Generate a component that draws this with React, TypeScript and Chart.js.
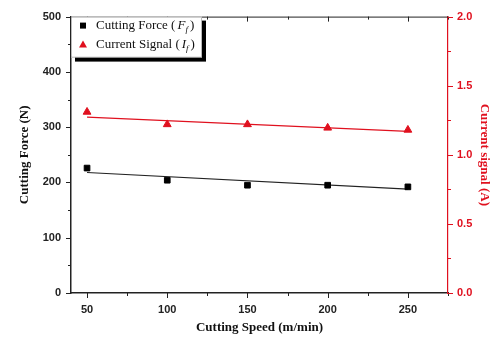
import React, { useEffect, useRef } from 'react';
import { Chart, registerables } from 'chart.js';

Chart.register(...registerables);

const speeds = [50, 100, 150, 200, 250];
const cuttingForce = [226, 204, 195, 195, 192];
const currentSignal = [1.31, 1.22, 1.22, 1.195, 1.18];
const fitSpeeds = [50, 250];
const forceFit = [218, 188];
const currentFit = [1.272, 1.17];

const xTicks = [50, 75, 100, 125, 150, 175, 200, 225, 250, 275];
const xLabels = [50, 100, 150, 200, 250];
const forceTicks = [0, 50, 100, 150, 200, 250, 300, 350, 400, 450, 500];
const forceLabels = [0, 100, 200, 300, 400, 500];
const currentTicks = [0, 0.25, 0.5, 0.75, 1.0, 1.25, 1.5, 1.75, 2.0];
const currentLabels = [0, 0.5, 1.0, 1.5, 2.0];

const RED = '#e0101e';
const SERIF = '"Liberation Serif", "Times New Roman", serif';
const SANS = '"Liberation Sans", Arial, sans-serif';

const tickPlugin = {
  id: 'minorTicks',
  afterDraw(chart: any) {
    const ctx = chart.ctx;
    const x = chart.scales.x;
    const y = chart.scales.y;
    const y1 = chart.scales.y1;
    const area = chart.chartArea;
    ctx.save();
    ctx.lineWidth = 1;
    ctx.strokeStyle = '#222';
    ctx.beginPath();
    ctx.moveTo(area.left, area.top + 0.5);
    ctx.lineTo(area.right, area.top + 0.5);
    ctx.stroke();
    xTicks.forEach((v) => {
      const px = Math.round(x.getPixelForValue(v)) + 0.5;
      const len = xLabels.includes(v) ? 5 : 3;
      ctx.beginPath();
      ctx.moveTo(px, area.bottom);
      ctx.lineTo(px, area.bottom + len);
      ctx.moveTo(px, area.top);
      ctx.lineTo(px, area.top + len);
      ctx.stroke();
    });
    forceTicks.forEach((v) => {
      const py = Math.round(y.getPixelForValue(v)) + 0.5;
      const len = forceLabels.includes(v) ? 5 : 3;
      ctx.beginPath();
      ctx.moveTo(area.left - len, py);
      ctx.lineTo(area.left, py);
      ctx.stroke();
    });
    ctx.strokeStyle = RED;
    currentTicks.forEach((v) => {
      const py = Math.round(y1.getPixelForValue(v)) + 0.5;
      const len = currentLabels.includes(v) ? 5 : 3;
      ctx.beginPath();
      ctx.moveTo(area.right, py);
      ctx.lineTo(area.right + len, py);
      ctx.stroke();
    });
    ctx.restore();

    // legend
    const lx = area.left;
    const ly = area.top;
    const lw = 131;
    const lh = 41;
    ctx.save();
    ctx.fillStyle = '#000';
    ctx.fillRect(lx + 4, ly + 4, lw, lh);
    ctx.fillStyle = '#fff';
    ctx.fillRect(lx, ly, lw, lh);
    ctx.strokeStyle = '#777';
    ctx.lineWidth = 0.5;
    ctx.strokeRect(lx + 0.5, ly + 0.5, lw - 1, lh - 1);

    const drawEntry = (yy: number, label: string, sym: string, marker: (cx: number, cy: number) => void) => {
      marker(lx + 12, yy - 4);
      let tx = lx + 25;
      ctx.fillStyle = '#111';
      ctx.textBaseline = 'alphabetic';
      ctx.textAlign = 'left';
      ctx.font = `13px ${SERIF}`;
      const t1 = label + ' (';
      ctx.fillText(t1, tx, yy);
      tx += ctx.measureText(t1).width + 2;
      ctx.font = `italic 13px ${SERIF}`;
      ctx.fillText(sym, tx, yy);
      tx += ctx.measureText(sym).width;
      ctx.font = `italic 9px ${SERIF}`;
      ctx.fillText('f', tx, yy + 3);
      tx += ctx.measureText('f').width + 2;
      ctx.font = `13px ${SERIF}`;
      ctx.fillText(')', tx, yy);
    };

    drawEntry(ly + 12, 'Cutting Force', 'F', (cx, cy) => {
      ctx.fillStyle = '#000';
      ctx.fillRect(cx - 3, cy - 2, 6, 6);
    });
    drawEntry(ly + 31, 'Current Signal', 'I', (cx, cy) => {
      ctx.fillStyle = RED;
      ctx.beginPath();
      ctx.moveTo(cx, cy - 3);
      ctx.lineTo(cx + 4, cy + 4);
      ctx.lineTo(cx - 4, cy + 4);
      ctx.closePath();
      ctx.fill();
    });
    ctx.restore();
  },
};

export default function App() {
  const ref = useRef<HTMLCanvasElement | null>(null);

  useEffect(() => {
    if (!ref.current) return;
    const chart = new Chart(ref.current, {
      type: 'scatter',
      data: {
        datasets: [
          {
            label: 'Cutting Force',
            data: speeds.map((s, i) => ({ x: s, y: cuttingForce[i] })),
            yAxisID: 'y',
            pointStyle: 'rect',
            pointRadius: 4,
            backgroundColor: '#000',
            borderColor: '#000',
            showLine: false,
          },
          {
            label: 'Force fit',
            data: fitSpeeds.map((s, i) => ({ x: s, y: forceFit[i] })),
            yAxisID: 'y',
            showLine: true,
            pointRadius: 0,
            borderColor: '#222',
            borderWidth: 1.2,
          },
          {
            label: 'Current Signal',
            data: speeds.map((s, i) => ({ x: s, y: currentSignal[i] })),
            yAxisID: 'y1',
            pointStyle: 'triangle',
            pointRadius: 4.5,
            backgroundColor: RED,
            borderColor: RED,
            showLine: false,
          },
          {
            label: 'Current fit',
            data: fitSpeeds.map((s, i) => ({ x: s, y: currentFit[i] })),
            yAxisID: 'y1',
            showLine: true,
            pointRadius: 0,
            borderColor: RED,
            borderWidth: 1.2,
          },
        ],
      },
      options: {
        animation: false,
        responsive: false,
        layout: { padding: { top: 16, left: 0, right: 0, bottom: 0 } },
        plugins: { legend: { display: false }, tooltip: { enabled: false } },
        scales: {
          x: {
            type: 'linear',
            position: 'bottom',
            min: 40,
            max: 275,
            afterBuildTicks: (s: any) => {
              s.ticks = xTicks.map((v) => ({ value: v }));
            },
            afterFit: (s: any) => {
              s.height = 46;
            },
            grid: { display: true, drawOnChartArea: false, drawTicks: false },
            border: { display: true, color: '#222', width: 1.5 },
            ticks: {
              padding: 10,
              autoSkip: false,
              maxRotation: 0,
              color: '#222',
              font: { family: SANS, size: 11, weight: 'bold' },
              callback: (v: any) => (xLabels.includes(Number(v)) ? String(v) : ''),
            },
            title: {
              display: true,
              text: 'Cutting Speed (m/min)',
              color: '#111',
              font: { family: SERIF, size: 13, weight: 'bold', lineHeight: 1.2 },
              padding: { top: 0, bottom: 4 },
            },
          },
          y: {
            type: 'linear',
            position: 'left',
            min: 0,
            max: 500,
            afterBuildTicks: (s: any) => {
              s.ticks = forceTicks.map((v) => ({ value: v }));
            },
            afterFit: (s: any) => {
              s.width = 71;
            },
            grid: { display: true, drawOnChartArea: false, drawTicks: false },
            border: { display: true, color: '#222', width: 1.5 },
            ticks: {
              padding: 10,
              autoSkip: false,
              color: '#222',
              font: { family: SANS, size: 11, weight: 'bold' },
              callback: (v: any) => (forceLabels.includes(Number(v)) ? String(v) : ''),
            },
            title: {
              display: true,
              text: 'Cutting Force (N)',
              color: '#111',
              font: { family: SERIF, size: 13, weight: 'bold', lineHeight: 1.2 },
              padding: { top: 17, bottom: 0 },
            },
          },
          y1: {
            type: 'linear',
            position: 'right',
            min: 0,
            max: 2.0,
            afterBuildTicks: (s: any) => {
              s.ticks = currentTicks.map((v) => ({ value: v }));
            },
            afterFit: (s: any) => {
              s.width = 43;
            },
            grid: { display: true, drawOnChartArea: false, drawTicks: false },
            border: { display: true, color: RED, width: 1.2 },
            ticks: {
              padding: 9,
              autoSkip: false,
              color: RED,
              font: { family: SANS, size: 11, weight: 'bold' },
              callback: (v: any) =>
                currentLabels.includes(Number(v)) ? Number(v).toFixed(1) : '',
            },
            title: {
              display: true,
              text: 'Current signal (A)',
              color: RED,
              font: { family: SERIF, size: 13, weight: 'bold', lineHeight: 1 },
              padding: { top: 0, bottom: 0 },
            },
          },
        },
      } as any,
      plugins: [tickPlugin],
    });
    return () => chart.destroy();
  }, []);

  return (
    <div style={{ position: 'absolute', left: 0, top: 0, width: 491, height: 339, background: '#fff' }}>
      <canvas ref={ref} width={491} height={339} />
    </div>
  );
}
